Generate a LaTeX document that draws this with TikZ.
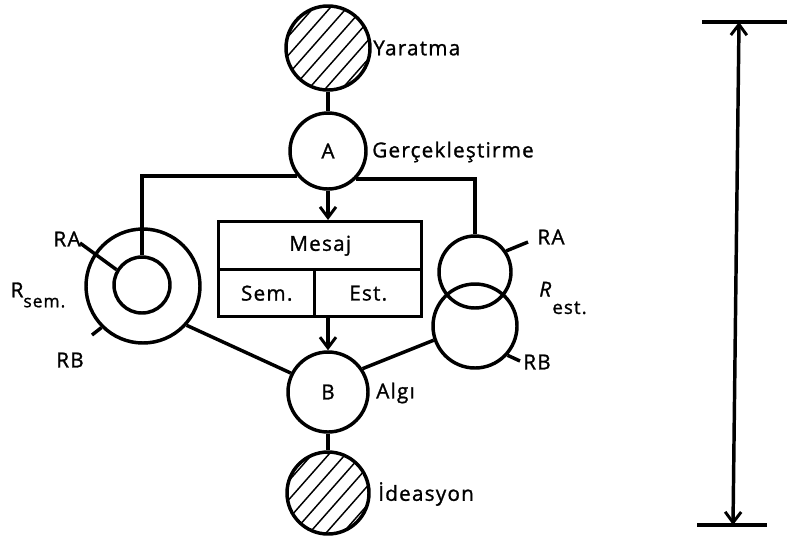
\documentclass[tikz,border=0pt]{standalone}
\usepackage{fontspec}
\setmainfont{Open Sans}[LetterSpace=6.0,FakeBold=1.2]
\usetikzlibrary{arrows.meta,calc}
\begin{document}
\begin{tikzpicture}[x=0.75pt,y=-0.75pt,
  ln/.style={line width=2.6pt},
  txt/.style={font=\fontsize{15.5}{18}\selectfont},
  ring/.style={circle,draw,ln,inner sep=0pt,txt},
  hatched/.style={path picture={
     \foreach \k in {-3,...,3}{
       \draw[line width=1.1pt] ([shift={(\k*12.5pt-30pt,-34pt)}]path picture bounding box.center) -- ++(60pt,68pt);}}},
  lbl/.style={txt,inner sep=0pt},
  barb/.tip={Straight Barb[length=8pt,width=12pt,line width=2.2pt]},
  arr/.style={ln,-{barb}},
  cell/.style={draw,ln,rectangle,inner sep=0pt,anchor=north west,txt}]
\useasboundingbox (0,0) rectangle (787,536);

% central column
\node[ring,hatched,minimum size=63pt] (Y) at (328,48) {};
\node[lbl,anchor=west] (Yl) at (373,48) {Yaratma};
\node[ring,minimum size=57pt] (A) at (328,151) {A};
\node[lbl,anchor=west] (Al) at (372,152) {Gerçekleştirme};

\node[cell,minimum width=152.25pt,minimum height=36pt] (mesaj) at (217,220) {Mesaj};
\node[cell,minimum width=72pt,minimum height=35.25pt] (sem) at (217,268) {Sem.\hspace{7pt}};
\node[cell,minimum width=80.25pt,minimum height=35.25pt] (est) at (313,268) {Est.\hspace{30pt}};

\node[ring,minimum size=60pt] (B) at (328,392) {B};
\node[lbl,anchor=west] (Bl) at (376,393) {Algı};
\node[ring,hatched,minimum size=61.5pt] (I) at (328,493) {};
\node[lbl,anchor=west] (Il) at (378,494) {İdeasyon};

% left ring
\node[ring,minimum size=85.5pt] (semOut) at (143,286) {};
\node[ring,minimum size=42pt] (semIn) at (142,285) {};
\node[lbl] (raL) at (67,239) {RA};
\node[lbl] (rbL) at (70,360) {RB};
\node[lbl] (rsem) at (38,295) {R\raisebox{-7.5pt}{\fontsize{13}{15}\selectfont sem.}};
\coordinate (raLend) at (80,243);
\coordinate (rbLend) at (92,335);

% right circles
\node[ring,minimum size=54pt] (estA) at (475,272) {};
\node[ring,minimum size=63pt] (estB) at (475,326) {};
\node[lbl] (raR) at (551,237) {RA};
\node[lbl] (rbR) at (537,362) {RB};
\node[lbl] (rest) at (563,298) {\textit{R}\raisebox{-13pt}{\fontsize{14}{16}\selectfont est.}};
\coordinate (raRend) at (528,242);
\coordinate (rbRend) at (520,361);

% connectors
\draw[ln] (Y) -- (A);
\draw[ln] (B) -- (I);
\draw[arr] (A) -- (mesaj.north -| A);
\draw[arr] (est.south -| A) -- (B);
\draw[ln] (A.219) -| (semIn.north);
\draw[ln] (A.-45) -| (estA.north);
\draw[ln] (semOut.-42) -- (B.153);
\draw[ln] (estB.199) -- (B.34);
\draw[ln] (semIn.149) -- (raLend);
\draw[ln] (semOut.225) -- (rbLend);
\draw[ln] (estA.34) -- (raRend);
\draw[ln] (estB.-42) -- (rbRend);

% vertical measure
\coordinate (t1) at (702,22);
\coordinate (t2) at (787,22);
\coordinate (b1) at (697,525);
\coordinate (b2) at (767,525);
\coordinate (ta) at (739,22);
\coordinate (ba) at (733,525);
\draw[ln] (t1) -- (t2);
\draw[ln] (b1) -- (b2);
\draw[ln,{barb}-{barb}] (ta) -- (ba);
\end{tikzpicture}
\end{document}
